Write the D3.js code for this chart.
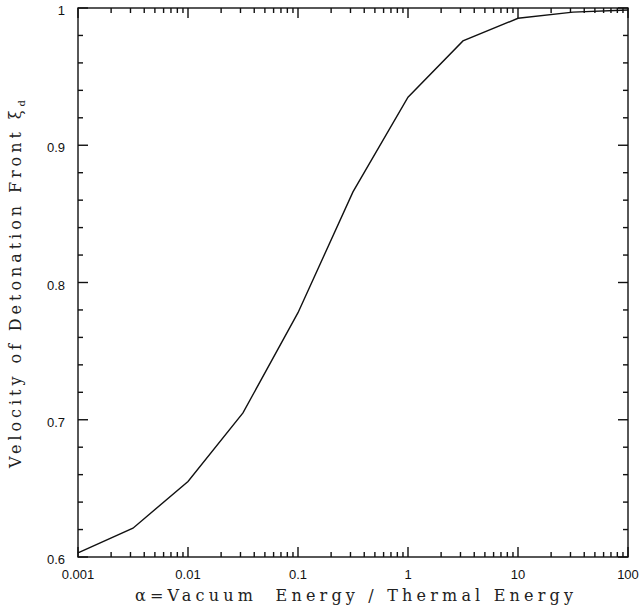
<!DOCTYPE html>
<html>
<head>
<meta charset="utf-8">
<script src="https://cdn.jsdelivr.net/npm/d3@7"></script>
<style>
    body { margin: 0; background: #fff; }
    .tick-label { font-family: 'Liberation Sans', Arial, sans-serif; font-size: 13px; fill: #111; }
    .axis-title { font-family: 'DejaVu Serif', serif; font-size: 16px; fill: #222; }
</style>
</head>
<body>
<svg id="chart" width="641" height="615"></svg>
<script>
// detonation front velocity vs alpha (vacuum / thermal energy)

const alphaValues = [0.001, 0.00316, 0.01, 0.0316, 0.1, 0.316, 1, 3.16, 10, 31.6, 100];
const velocityValues = [0.603, 0.621, 0.655, 0.705, 0.778, 0.866, 0.935, 0.976, 0.9925, 0.997, 0.9985];

const xTickValues = [0.001, 0.01, 0.1, 1, 10, 100];
const xTickLabels = ['0.001', '0.01', '0.1', '1', '10', '100'];
const yTickValues = [0.6, 0.7, 0.8, 0.9, 1];
const yTickLabels = ['0.6', '0.7', '0.8', '0.9', '1'];

const svg = d3.select('#chart');

const x = d3.scaleLog()
    .domain([0.001, 100])
    .range([78, 628]);

const y = d3.scaleLinear()
    .domain([0.6, 1])
    .range([557, 8]);

// minor ticks: 2..9 for each decade on x, every 0.02 on y
const xMinor = [];
for (let e = -3; e < 2; e++) {
    for (let m = 2; m <= 9; m++) xMinor.push(m * Math.pow(10, e));
}
const yMinor = d3.range(31, 50).filter(k => k % 5 !== 0).map(k => k * 0.02);

const bottomY = y(0.6), topY = y(1), leftX = x(0.001), rightX = x(100);

// frame
svg.append('rect')
    .attr('x', leftX)
    .attr('y', topY)
    .attr('width', rightX - leftX)
    .attr('height', bottomY - topY)
    .attr('fill', 'none')
    .attr('stroke', '#111')
    .attr('stroke-width', 1.4);

// tick labels
svg.selectAll('text.xlab')
    .data(xTickValues)
    .enter().append('text')
    .attr('class', 'tick-label xlab')
    .attr('x', d => x(d))
    .attr('y', bottomY + 22)
    .attr('text-anchor', 'middle')
    .text((d, i) => xTickLabels[i]);

svg.selectAll('text.ylab')
    .data(yTickValues)
    .enter().append('text')
    .attr('class', 'tick-label ylab')
    .attr('x', leftX - 13)
    .attr('y', d => y(d) + 7)
    .attr('text-anchor', 'end')
    .text((d, i) => yTickLabels[i]);

// the curve
const line = d3.line()
    .x((d, i) => x(alphaValues[i]))
    .y(d => y(d));

svg.append('path')
    .datum(velocityValues)
    .attr('d', line)
    .attr('fill', 'none')
    .attr('stroke', '#111')
    .attr('stroke-width', 1.4);

// inward ticks, drawn as thin filled bars on all four sides
const xTicks = xTickValues.map(v => ({v, len: 10})).concat(xMinor.map(v => ({v, len: 5})));
const yTicks = yTickValues.map(v => ({v, len: 10})).concat(yMinor.map(v => ({v, len: 5})));

const tickG = svg.append('g').attr('fill', '#111');

[bottomY, topY].forEach((edge, side) => {
    tickG.selectAll(null)
        .data(xTicks)
        .enter().append('rect')
        .attr('x', d => x(d.v) - 0.7)
        .attr('y', d => side === 0 ? edge - d.len : edge)
        .attr('width', 1.4)
        .attr('height', d => d.len);
});

[leftX, rightX].forEach((edge, side) => {
    tickG.selectAll(null)
        .data(yTicks)
        .enter().append('rect')
        .attr('x', d => side === 0 ? edge : edge - d.len)
        .attr('y', d => y(d.v) - 0.7)
        .attr('width', d => d.len)
        .attr('height', 1.4);
});

// axis titles, stretched to the width they have in the original
svg.append('text')
    .attr('class', 'axis-title')
    .attr('x', 135)
    .attr('y', 601)
    .attr('textLength', 438)
    .attr('lengthAdjust', 'spacing')
    .text('\u03b1=Vacuum\u00a0\u00a0Energy / Thermal Energy');

const yTitle = svg.append('text')
    .attr('class', 'axis-title')
    .attr('transform', 'translate(21, 468) rotate(-90)')
    .attr('textLength', 368)
    .attr('lengthAdjust', 'spacing');
yTitle.append('tspan').text('Velocity of Detonation Front \u03be');
yTitle.append('tspan').attr('dy', 4).style('font-size', '10px').text('d');
</script>
</body>
</html>
